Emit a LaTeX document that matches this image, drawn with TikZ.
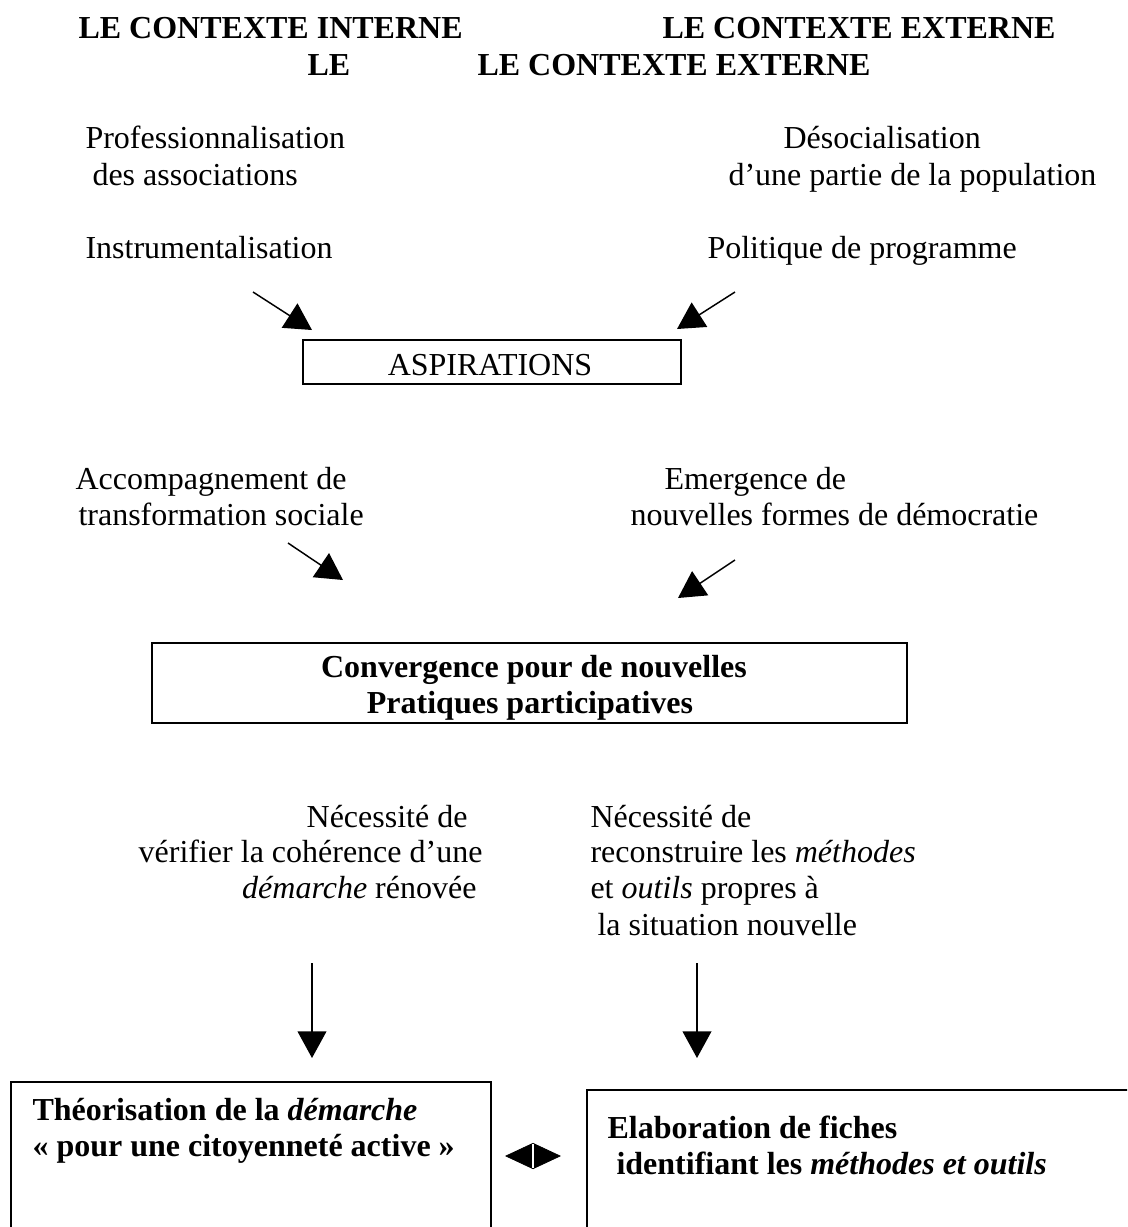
\documentclass[tikz,border=0pt]{standalone}
\usepackage{fontspec}
\setmainfont{Liberation Serif}
\usetikzlibrary{arrows.meta}
\tikzset{
  txt/.style={inner sep=0pt, anchor=base west, font=\fontsize{12pt}{13.8pt}\selectfont},
  rtxt/.style={txt, anchor=base east},
  btxt/.style={txt, font=\fontsize{12pt}{13.8pt}\selectfont\bfseries},
  frame/.style={draw, line width=0.75pt, inner sep=0pt},
  arr/.style={line width=0.55pt, -{Triangle[length=10pt, width=10.8pt]}},
  dbl/.style={line width=0.3pt, {Triangle[length=10.5pt, width=9.75pt]}-{Triangle[length=10.5pt, width=9.75pt]}},
}
\begin{document}
\begin{tikzpicture}[x=0.375pt, y=-0.375pt]
\clip (0,0) rectangle (1127,1227);
\fill[white] (0,0) rectangle (1127,1227);

% header
\node[btxt] (h1) at (78,38) {LE CONTEXTE INTERNE};
\node[btxt] (h2) at (662,38) {LE CONTEXTE EXTERNE};
\node[btxt] (h3) at (307,75) {LE};
\node[btxt] (h4) at (477,75) {LE CONTEXTE EXTERNE};

% top texts
\node[txt] (t1) at (85,148) {Professionnalisation};
\node[txt] (t2) at (92,185) {des associations};
\node[txt] (t3) at (85,258) {Instrumentalisation};
\node[txt] (t4) at (783,148) {Désocialisation};
\node[txt] (t5) at (728,185) {d’une partie de la population};
\node[txt] (t6) at (707,258) {Politique de programme};

% aspirations
\node[frame, minimum width=141.75pt, minimum height=16.5pt] (asp) at (492,362) {};
\node[inner sep=0pt, anchor=base, font=\fontsize{12pt}{13.8pt}\selectfont] (asptxt) at (490,375) {ASPIRATIONS};
\coordinate (a1s) at (253,292); \coordinate (a1e) at (312,330);
\coordinate (a2s) at (735,292); \coordinate (a2e) at (677,329);
\draw[arr] (a1s) -- (a1e);
\draw[arr] (a2s) -- (a2e);

% middle texts
\node[txt] (m1) at (75,489) {Accompagnement de};
\node[txt] (m2) at (78,525) {transformation sociale};
\node[txt] (m3) at (664,489) {Emergence de};
\node[txt] (m4) at (630,525) {nouvelles formes de démocratie};
\coordinate (a3s) at (288,543); \coordinate (a3e) at (343,580);
\coordinate (a4s) at (735,560); \coordinate (a4e) at (678,598);
\draw[arr] (a3s) -- (a3e);
\draw[arr] (a4s) -- (a4e);

% convergence
\node[frame, minimum width=283.125pt, minimum height=30pt] (conv) at (529.5,683) {};
\node[inner sep=0pt, anchor=base, font=\fontsize{12pt}{13.8pt}\selectfont\bfseries] (c1) at (534,677) {Convergence pour de nouvelles};
\node[inner sep=0pt, anchor=base, font=\fontsize{12pt}{13.8pt}\selectfont\bfseries] (c2) at (530,713) {Pratiques participatives};

% necessite
\node[rtxt] (n1) at (468,827) {Nécessité de};
\node[rtxt] (n2) at (483,862) {vérifier la cohérence d’une};
\node[rtxt] (n3) at (477,898) {\textit{démarche} rénovée};
\node[txt] (n4) at (590,827) {Nécessité de};
\node[txt] (n5) at (590,862) {reconstruire les \textit{méthodes}};
\node[txt] (n6) at (590,898) {et \textit{outils} propres à};
\node[txt] (n7) at (597,935) {la situation nouvelle};

\coordinate (v1s) at (312,963); \coordinate (v1e) at (312,1058);
\coordinate (v2s) at (697,963); \coordinate (v2e) at (697,1058);
\draw[arr] (v1s) -- (v1e);
\draw[arr] (v2s) -- (v2e);

% bottom boxes
\node[frame, minimum width=180pt, minimum height=81.75pt] (theo) at (251,1191) {};
\node[frame, minimum width=229.875pt, minimum height=78.75pt] (elab) at (893.5,1195) {};
\node[btxt] (b1) at (32,1120) {Théorisation de la \textit{démarche}};
\node[btxt] (b2) at (32,1156) {« pour une citoyenneté active »};
\node[btxt] (b3) at (607,1138) {Elaboration de fiches};
\node[btxt] (b4) at (616,1174) {identifiant les \textit{méthodes et outils}};

\coordinate (dl) at (505,1156); \coordinate (dr) at (561,1156);
\draw[dbl] (dl) -- (dr);
\draw[white, line width=0.5pt] (533,1144) -- (533,1168);
\end{tikzpicture}
\end{document}
